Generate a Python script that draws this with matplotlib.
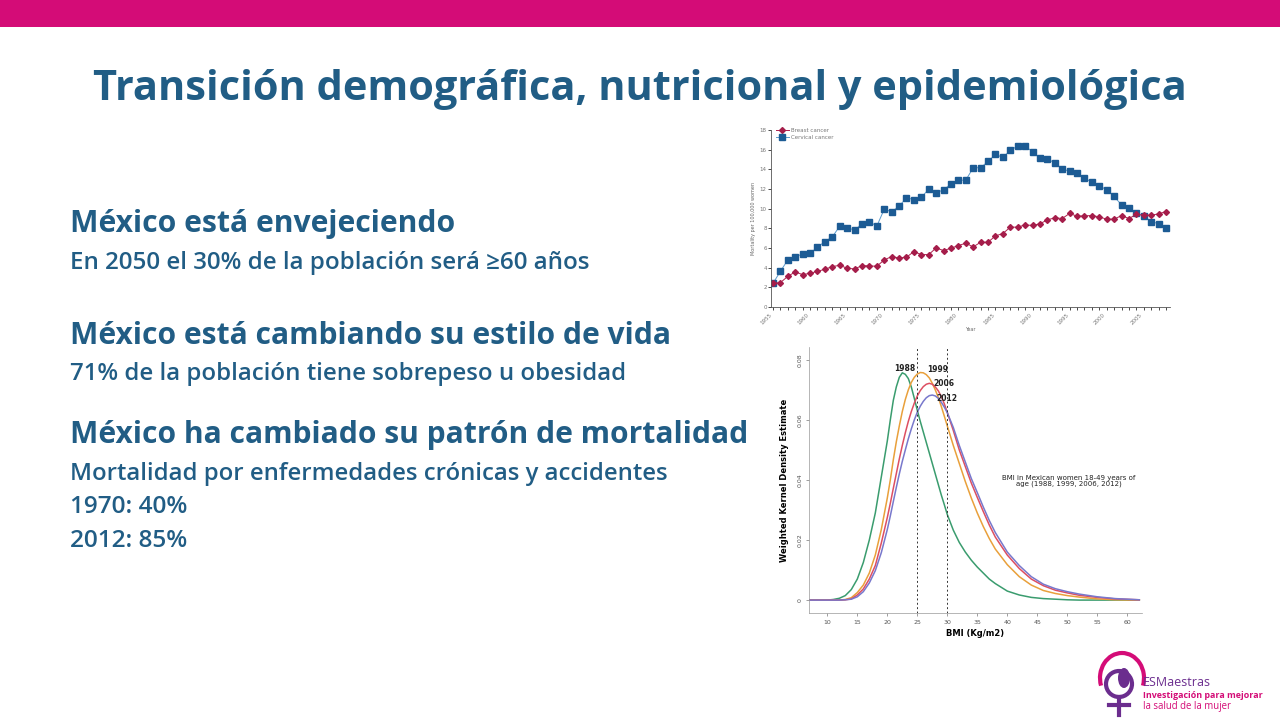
import matplotlib.pyplot as plt
import matplotlib.patches as mpatches

# ---- data: mortality (top-right chart) ----
years = list(range(1955, 2009))
cervical_cancer = [2.41, 3.63, 4.79, 5.06, 5.43, 5.47, 6.08, 6.66, 7.13, 8.22,
                   8.08, 7.81, 8.46, 8.69, 8.22, 9.95, 9.68, 10.25, 11.1, 10.93,
                   11.14, 11.99, 11.61, 11.92, 12.5, 12.9, 12.9, 14.16, 14.16, 14.8,
                   15.52, 15.21, 15.93, 16.37, 16.37, 15.79, 15.11, 15.04, 14.67, 14.06,
                   13.79, 13.62, 13.14, 12.67, 12.33, 11.92, 11.24, 10.39, 10.02, 9.51,
                   9.27, 8.66, 8.49, 8.08]
breast_cancer = [2.41, 2.48, 3.12, 3.57, 3.29, 3.43, 3.63, 3.84, 4.11, 4.24,
                 3.94, 3.87, 4.21, 4.18, 4.14, 4.79, 5.13, 4.99, 5.06, 5.64,
                 5.33, 5.33, 6.01, 5.74, 5.98, 6.25, 6.49, 6.11, 6.59, 6.59,
                 7.23, 7.47, 8.12, 8.12, 8.35, 8.29, 8.46, 8.86, 9.07, 9.0,
                 9.51, 9.24, 9.27, 9.3, 9.17, 8.93, 8.93, 9.3, 9.0, 9.41,
                 9.34, 9.34, 9.47, 9.71]

# ---- data: BMI kernel density (bottom-right chart) ----
bmi = [7, 10, 11, 12, 13, 14, 15, 16, 17, 18, 19,
       20, 20.5, 21, 21.5, 22, 22.5, 23, 23.5, 24, 24.5, 25, 25.5, 26, 26.5, 27, 27.5,
       28, 28.5, 29, 29.5, 30,
       31, 32, 33, 34, 35, 36, 37, 38, 40, 42, 44, 46, 48, 50, 52, 55, 58, 62]
kde_1988 = [0, 0, 0.0002, 0.0006, 0.0015, 0.0035, 0.007, 0.0125, 0.02, 0.029, 0.041,
            0.053, 0.060, 0.0665, 0.071, 0.0742, 0.0757, 0.0752, 0.0738, 0.071, 0.0672,
            0.0632, 0.0595, 0.056, 0.0525, 0.049, 0.0455, 0.042, 0.0385, 0.035, 0.0318,
            0.0285,
            0.0233, 0.0192, 0.016, 0.0133, 0.011, 0.009, 0.007, 0.0055, 0.003, 0.0017,
            0.0009, 0.0005, 0.0003, 0.0001, 0, 0, 0, 0]
kde_1999 = [0, 0, 0, 0, 0.0002, 0.0008, 0.0025, 0.005, 0.009, 0.015, 0.0235,
            0.034, 0.040, 0.0467, 0.0527, 0.058, 0.0628, 0.0668, 0.0700, 0.0725, 0.0742,
            0.0753, 0.0758, 0.0757, 0.0751, 0.0740, 0.0722, 0.070, 0.0675, 0.0645, 0.0613,
            0.058,
            0.0515, 0.0455, 0.0395, 0.034, 0.029, 0.0245, 0.0205, 0.017, 0.0118, 0.0078,
            0.005, 0.0032, 0.0022, 0.0015, 0.001, 0.0004, 0.0001, 0]
kde_2006 = [0, 0, 0, 0, 0.0001, 0.0004, 0.0017, 0.0037, 0.007, 0.0115, 0.019,
            0.0275, 0.0322, 0.0372, 0.0421, 0.047, 0.0515, 0.0557, 0.0595, 0.0628, 0.0656,
            0.068, 0.0698, 0.0711, 0.0719, 0.0722, 0.0719, 0.0710, 0.0697, 0.0678, 0.0654,
            0.0625,
            0.0565, 0.050, 0.0445, 0.039, 0.0342, 0.0295, 0.025, 0.021, 0.015, 0.0105,
            0.007, 0.0048, 0.0033, 0.0024, 0.0016, 0.0009, 0.0004, 0.0001]
kde_2012 = [0, 0, 0, 0, 0.0001, 0.0003, 0.0011, 0.0028, 0.0057, 0.0098, 0.0158,
            0.0235, 0.028, 0.0328, 0.0375, 0.042, 0.0462, 0.050, 0.0537, 0.057, 0.0600,
            0.0626, 0.0646, 0.0662, 0.0674, 0.0681, 0.0683, 0.0680, 0.0672, 0.0659, 0.0643,
            0.0624,
            0.0575, 0.0515, 0.046, 0.0405, 0.0358, 0.031, 0.0265, 0.0225, 0.016, 0.0115,
            0.0078, 0.0053, 0.0038, 0.0028, 0.002, 0.0011, 0.0005, 0.0001]
kde_series = [('1988', kde_1988, '#3A9C6E'), ('1999', kde_1999, '#E9A03B'),
              ('2006', kde_2006, '#DD4F62'), ('2012', kde_2012, '#7878CC')]
year_label_pos = {'1988': (22.9, 0.0773), '1999': (28.4, 0.0767),
                  '2006': (29.4, 0.0720), '2012': (29.9, 0.0673)}

W, H = 1280, 720
TEXT_BLUE = '#215D85'
MAGENTA = '#D40C77'
FONT = 'Open Sans'

fig = plt.figure(figsize=(12.8, 7.2), dpi=100)
fig.patch.set_facecolor('white')


def px_axes(left, top, right, bottom):
    return fig.add_axes([left / W, 1 - bottom / H, (right - left) / W, (bottom - top) / H])


def fit_text(x, y, s, width_px, ha='left', **kw):
    t = fig.text(x / W, 1 - y / H, s, ha=ha, va='center', family=FONT, **kw)
    w = t.get_window_extent(fig.canvas.get_renderer()).width
    t.set_fontsize(t.get_fontsize() * width_px / w)
    return t


# ---- decoration layer ----
deco = fig.add_axes([0, 0, 1, 1])
deco.set_xlim(0, W)
deco.set_ylim(H, 0)
deco.axis('off')
deco.add_patch(mpatches.Rectangle((0, 0), W, 27, color=MAGENTA, lw=0))

# logo
deco.add_patch(mpatches.Arc((1122, 678), 44, 50, theta1=-200, theta2=20,
                            color=MAGENTA, lw=3))
deco.add_patch(mpatches.Circle((1119, 684), 13, fill=False, ec='#6B2D8E', lw=3))
deco.plot([1119, 1119], [697, 715], color='#6B2D8E', lw=3)
deco.plot([1109, 1129], [705, 705], color='#6B2D8E', lw=3)
deco.add_patch(mpatches.Ellipse((1124, 678), 12, 20, color='#6B2D8E', lw=0))

# ---- slide text ----
fit_text(640, 90, 'Transición demográfica, nutricional y epidemiológica', 1092,
         ha='center', color=TEXT_BLUE, fontweight='bold', fontsize=30)
fit_text(70, 224, 'México está envejeciendo', 386, color=TEXT_BLUE, fontweight='bold', fontsize=20)
fit_text(70, 263, 'En 2050 el 30% de la población será ≥60 años', 521, color=TEXT_BLUE,
         fontweight='semibold', fontsize=16)
fit_text(70, 336, 'México está cambiando su estilo de vida', 600, color=TEXT_BLUE,
         fontweight='bold', fontsize=20)
fit_text(70, 374, '71% de la población tiene sobrepeso u obesidad', 556, color=TEXT_BLUE,
         fontweight='semibold', fontsize=16)
fit_text(70, 435, 'México ha cambiado su patrón de mortalidad', 676, color=TEXT_BLUE,
         fontweight='bold', fontsize=20)
fit_text(70, 474, 'Mortalidad por enfermedades crónicas y accidentes', 599, color=TEXT_BLUE,
         fontweight='semibold', fontsize=16)
fit_text(70, 507, '1970: 40%', 118, color=TEXT_BLUE, fontweight='semibold', fontsize=16)
fit_text(70, 541, '2012: 85%', 118, color=TEXT_BLUE, fontweight='semibold', fontsize=16)

fit_text(1143, 682, 'ESMaestras', 68, color='#6B2D8E', fontsize=9)
fit_text(1143, 696, 'Investigación para mejorar', 120, color=MAGENTA, fontweight='bold', fontsize=7)
fit_text(1143, 706, 'la salud de la mujer', 89, color=MAGENTA, fontsize=7)

# ---- top chart: mortality ----
ax1 = px_axes(771, 130, 1170, 307)
ax1.plot(years, cervical_cancer, color='#5A9ACD', lw=0.7, marker='s', markersize=4,
         markerfacecolor='#1C5B94', markeredgecolor='#1C5B94', label='Cervical cancer')
ax1.plot(years, breast_cancer, color='#B0204E', lw=0.7, marker='D', markersize=3,
         markerfacecolor='#A51D4A', markeredgecolor='#A51D4A', label='Breast cancer')
ax1.set_xlim(1954.73, 2008.54)
ax1.set_ylim(0, 18)
ax1.set_xticks(years)
ax1.set_xticklabels([str(y) if y % 5 == 0 else '' for y in years], rotation=45,
                    ha='right', fontsize=4, color='#777777')
ax1.set_yticks(range(0, 19, 2))
ax1.tick_params(axis='y', labelsize=4, labelcolor='#777777', length=2, width=0.5, pad=1)
ax1.tick_params(axis='x', length=2.5, width=0.5, pad=1)
for side in ['top', 'right']:
    ax1.spines[side].set_visible(False)
for side in ['left', 'bottom']:
    ax1.spines[side].set_linewidth(0.6)
    ax1.spines[side].set_color('#555555')
ax1.set_ylabel('Mortality per 100,000 women', fontsize=3.5, color='#666666', labelpad=3)
ax1.set_xlabel('Year', fontsize=3.5, color='#666666', labelpad=1)
handles, labels = ax1.get_legend_handles_labels()
ax1.legend(handles[::-1], labels[::-1], loc='upper left', bbox_to_anchor=(0.005, 1.03),
           fontsize=4, frameon=False, handlelength=2.2, labelspacing=0.3,
           borderaxespad=0.2, handletextpad=0.4, labelcolor='#777777')
ax1.patch.set_alpha(0)

# ---- bottom chart: BMI kernel density ----
ax2 = px_axes(809, 346.7, 1141.7, 613.3)
for name, values, color in kde_series:
    ax2.plot(bmi, values, color=color, lw=1.1)
for name, (bx, by) in year_label_pos.items():
    ax2.text(bx, by, name, fontsize=5.5, fontweight='bold', ha='center', va='center',
             color='#222222')
for xv in [25, 30]:
    ax2.axvline(xv, color='#333333', lw=0.7, ls=(0, (2, 2.5)))
ax2.text(50.3, 0.0397, 'BMI in Mexican women 18-49 years of\nage (1988, 1999, 2006, 2012)',
         fontsize=5, ha='center', va='center', color='#222222', linespacing=0.95)
ax2.set_xlim(6.95, 62.4)
ax2.set_ylim(-0.0044, 0.0844)
ax2.set_xticks(range(10, 61, 5))
ax2.set_yticks([0, 0.02, 0.04, 0.06, 0.08])
ax2.set_yticklabels(['0', '0.02', '0.04', '0.06', '0.08'], rotation=90, va='center')
ax2.tick_params(axis='both', labelsize=4.5, labelcolor='#555555', length=2.5, width=0.5,
                color='#777777', pad=2)
for side in ['top', 'right']:
    ax2.spines[side].set_visible(False)
for side in ['left', 'bottom']:
    ax2.spines[side].set_linewidth(0.5)
    ax2.spines[side].set_color('#999999')
ax2.set_xlabel('BMI (Kg/m2)', fontsize=6, fontweight='bold', labelpad=3)
ax2.set_ylabel('Weighted Kernel Density Estimate', fontsize=6, fontweight='bold', labelpad=6)
ax2.patch.set_alpha(0)

fig.savefig('out.png', dpi=100)
